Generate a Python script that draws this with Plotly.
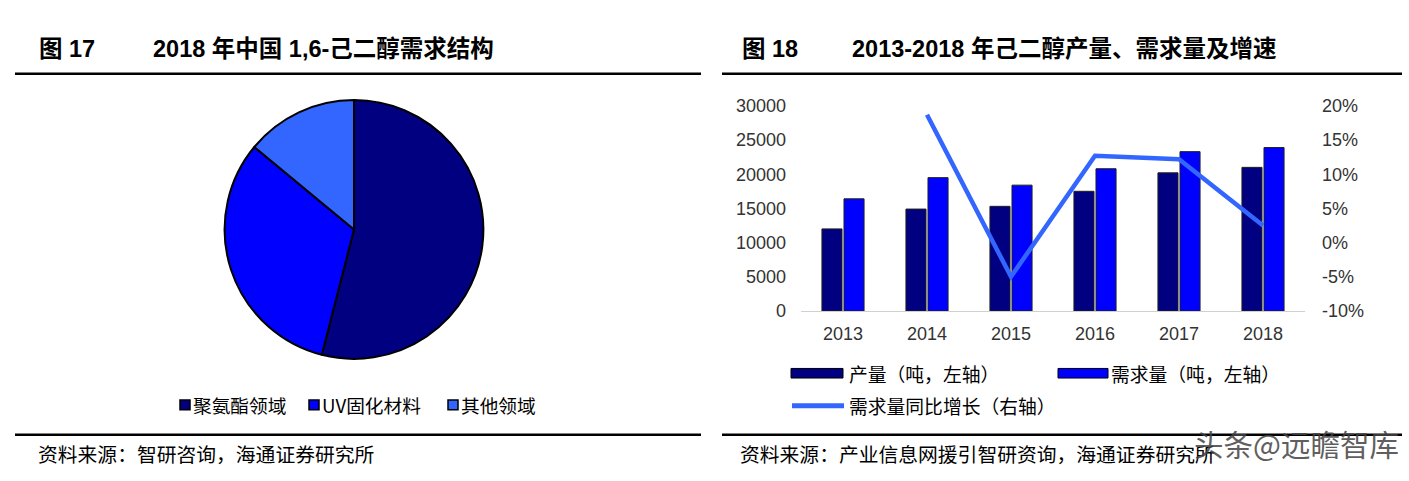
import plotly.graph_objects as go

W, H = 1409, 481

# ---------------- data ----------------
pie_labels = ["聚氨酯领域", "UV固化材料", "其他领域"]
pie_values = [54, 32, 14]
pie_colors = ["#000080", "#0000FF", "#3366FF"]

years = ["2013", "2014", "2015", "2016", "2017", "2018"]
production = [12000, 14900, 15300, 17500, 20200, 21000]
demand = [16400, 19500, 18400, 20800, 23300, 23900]
growth_years = ["2014", "2015", "2016", "2017", "2018"]
growth = [0.187, -0.050, 0.127, 0.122, 0.025]

left_ticks = [0, 5000, 10000, 15000, 20000, 25000, 30000]
left_tick_text = ["0", "5000", "10000", "15000", "20000", "25000", "30000"]
right_ticks = [-0.10, -0.05, 0.0, 0.05, 0.10, 0.15, 0.20]
right_tick_text = ["-10%", "-5%", "0%", "5%", "10%", "15%", "20%"]

title_left_no = "图 17"
title_left = "2018 年中国 1,6-己二醇需求结构"
title_right_no = "图 18"
title_right = "2013-2018 年己二醇产量、需求量及增速"
source_left = "资料来源：智研咨询，海通证券研究所"
source_right = "资料来源：产业信息网援引智研资询，海通证券研究所"
legend_right = ["产量（吨，左轴）", "需求量（吨，左轴）", "需求量同比增长（右轴）"]


def X(px):
    return px / W


def Y(py):
    return 1 - py / H


FONT = "Liberation Sans, Arial, Noto Sans CJK SC, sans-serif"
CJK = "Noto Sans CJK SC, sans-serif"

fig = go.Figure()

# pie
cx, cy, r = 354, 229, 135
fig.add_trace(go.Pie(
    labels=pie_labels, values=pie_values, sort=False, direction="clockwise",
    rotation=0, textinfo="none", hoverinfo="label+percent",
    marker=dict(colors=pie_colors, line=dict(color="black", width=2)),
    domain=dict(x=[X(cx - r), X(cx + r)], y=[Y(cy + r), Y(cy - r)]),
    showlegend=False,
))

# bars
fig.add_trace(go.Bar(
    x=years, y=production, name=legend_right[0], marker_color="#000080",
    marker_line=dict(color="#202020", width=1), xaxis="x", yaxis="y", showlegend=False,
))
fig.add_trace(go.Bar(
    x=years, y=demand, name=legend_right[1], marker_color="#0000FF",
    marker_line=dict(color="#202020", width=1), xaxis="x", yaxis="y", showlegend=False,
))
fig.add_trace(go.Scatter(
    x=growth_years, y=growth, name=legend_right[2], mode="lines",
    line=dict(color="#3366FF", width=4.5), xaxis="x", yaxis="y2", showlegend=False,
))

tickfont = dict(family=FONT, size=18, color="#333333")
fig.update_layout(
    width=W, height=H, margin=dict(l=0, r=0, t=0, b=0),
    paper_bgcolor="white", plot_bgcolor="white",
    barmode="group", bargap=0.475, bargroupgap=0.09,
    xaxis=dict(domain=[X(801), X(1305)], type="category", showline=True,
               linecolor="#d0d0d0", linewidth=1, ticks="", showgrid=False,
               tickfont=tickfont, anchor="y", ticklabelstandoff=6),
    yaxis=dict(domain=[Y(314), Y(100)], range=[0, 30000], tickvals=left_ticks,
               ticktext=left_tick_text,
               showgrid=False, zeroline=False, showline=False, ticks="",
               tickfont=tickfont, anchor="x", ticklabelstandoff=14),
    yaxis2=dict(domain=[Y(314), Y(100)], range=[-0.10, 0.20], tickvals=right_ticks,
                ticktext=right_tick_text, overlaying="y", side="right", anchor="x",
                showgrid=False, zeroline=False, showline=False, ticks="",
                tickfont=tickfont, ticklabelstandoff=16),
)

shapes = []
annotations = []

# title rules and source rules
for x0, x1 in [(15, 701), (722, 1402)]:
    shapes.append(dict(type="line", xref="paper", yref="paper", x0=X(x0), x1=X(x1),
                       y0=Y(66.5), y1=Y(66.5), line=dict(color="black", width=2.5)))
    shapes.append(dict(type="line", xref="paper", yref="paper", x0=X(x0), x1=X(x1),
                       y0=Y(443.3), y1=Y(443.3), line=dict(color="black", width=2.5)))

# titles
for xn, xt, no, txt in [(37, 151, title_left_no, title_left), (740, 850, title_right_no, title_right)]:
    annotations.append(dict(xref="paper", yref="paper", x=X(xn), y=Y(41), text="<b>" + no + "</b>",
                            showarrow=False, xanchor="left", yanchor="middle",
                            font=dict(family=FONT, size=23.5, color="black")))
    annotations.append(dict(xref="paper", yref="paper", x=X(xt), y=Y(41), text="<b>" + txt + "</b>",
                            showarrow=False, xanchor="left", yanchor="middle",
                            font=dict(family=FONT, size=23.5, color="black")))

# sources
for xs, txt in [(36, source_left), (738, source_right)]:
    annotations.append(dict(xref="paper", yref="paper", x=X(xs), y=Y(463), text=txt,
                            showarrow=False, xanchor="left", yanchor="middle",
                            font=dict(family=CJK, size=19.8, color="black")))

# left legend (pie)
for sx, lab, col in [(180, pie_labels[0], pie_colors[0]), (309, pie_labels[1], pie_colors[1]),
                     (448, pie_labels[2], pie_colors[2])]:
    shapes.append(dict(type="rect", xref="paper", yref="paper", x0=X(sx), x1=X(sx + 10),
                       y0=Y(417), y1=Y(407), fillcolor=col, line=dict(color="black", width=1.5)))
    annotations.append(dict(xref="paper", yref="paper", x=X(sx + 11), y=Y(412), text=lab,
                            showarrow=False, xanchor="left", yanchor="middle",
                            font=dict(family=CJK, size=18.7, color="black")))

# right legend
shapes.append(dict(type="rect", xref="paper", yref="paper", x0=X(791), x1=X(843),
                   y0=Y(384), y1=Y(374), fillcolor="#000080", line=dict(color="black", width=1)))
annotations.append(dict(xref="paper", yref="paper", x=X(847), y=Y(379), text=legend_right[0],
                        showarrow=False, xanchor="left", yanchor="middle",
                        font=dict(family=CJK, size=18.8, color="black")))
shapes.append(dict(type="rect", xref="paper", yref="paper", x0=X(1058), x1=X(1108),
                   y0=Y(384), y1=Y(374), fillcolor="#0000FF", line=dict(color="black", width=1)))
annotations.append(dict(xref="paper", yref="paper", x=X(1109), y=Y(379), text=legend_right[1],
                        showarrow=False, xanchor="left", yanchor="middle",
                        font=dict(family=CJK, size=18.8, color="black")))
shapes.append(dict(type="line", xref="paper", yref="paper", x0=X(792), x1=X(844),
                   y0=Y(413), y1=Y(413), line=dict(color="#3366FF", width=5)))
annotations.append(dict(xref="paper", yref="paper", x=X(847), y=Y(413), text=legend_right[2],
                        showarrow=False, xanchor="left", yanchor="middle",
                        font=dict(family=CJK, size=18.8, color="black")))

# watermark
annotations.append(dict(xref="paper", yref="paper", x=X(1401), y=Y(452), text="头条@远瞻智库",
                        showarrow=False, xanchor="right", yanchor="middle", opacity=0.85,
                        font=dict(family=CJK, size=29.5, color="#444444")))

fig.update_layout(shapes=shapes, annotations=annotations)
fig.write_html("out.html")
